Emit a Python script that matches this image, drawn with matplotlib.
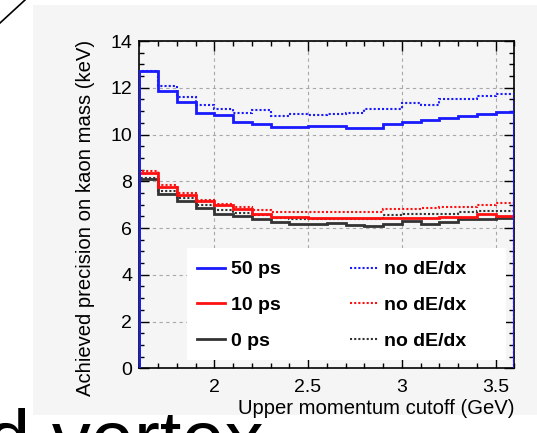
import numpy as np
import matplotlib
matplotlib.use("Agg")
import matplotlib.pyplot as plt
from matplotlib.patches import Rectangle
from matplotlib.lines import Line2D
from matplotlib.ticker import MultipleLocator

plt.rcParams['font.family'] = ['Liberation Sans', 'DejaVu Sans']

# Upper momentum cutoff bin edges (GeV)
cutoff_edges = [1.6, 1.7, 1.8, 1.9, 2.0, 2.1, 2.2, 2.3, 2.4, 2.5, 2.6,
                2.7, 2.8, 2.9, 3.0, 3.1, 3.2, 3.3, 3.4, 3.5, 3.6]

# Achieved precision on kaon mass (keV), per cutoff bin
prec_50ps = [12.72, 11.87, 11.40, 10.90, 10.82, 10.53, 10.43, 10.32, 10.32, 10.38,
             10.38, 10.30, 10.30, 10.46, 10.55, 10.63, 10.72, 10.80, 10.87, 10.98]
prec_50ps_nodedx = [12.72, 12.08, 11.61, 11.28, 11.09, 10.94, 11.03, 10.80, 10.87, 10.82,
                    10.87, 10.93, 11.11, 11.11, 11.36, 11.27, 11.52, 11.52, 11.63, 11.74]
prec_10ps = [8.36, 7.75, 7.41, 7.15, 6.98, 6.82, 6.62, 6.47, 6.46, 6.44,
             6.44, 6.44, 6.44, 6.44, 6.45, 6.45, 6.46, 6.48, 6.62, 6.52]
prec_10ps_nodedx = [8.42, 7.82, 7.48, 7.22, 7.04, 6.90, 6.76, 6.68, 6.68, 6.68,
                    6.67, 6.67, 6.67, 6.80, 6.80, 6.86, 6.90, 6.92, 7.00, 7.05]
prec_0ps = [8.08, 7.47, 7.15, 6.87, 6.62, 6.51, 6.39, 6.27, 6.17, 6.18,
            6.20, 6.15, 6.08, 6.19, 6.28, 6.19, 6.24, 6.38, 6.40, 6.42]
prec_0ps_nodedx = [8.12, 7.60, 7.29, 6.98, 6.79, 6.65, 6.55, 6.45, 6.38, 6.38,
                   6.40, 6.40, 6.40, 6.56, 6.58, 6.58, 6.62, 6.68, 6.72, 6.72]

solid_labels = ["50 ps", "10 ps", "0 ps"]
dotted_label = "no dE/dx"
x_ticks = [2, 2.5, 3, 3.5]
y_ticks = [0, 2, 4, 6, 8, 10, 12, 14]

BLUE = "#1a1aff"
RED = "#ff1010"
BLACK = "#333333"

W, H = 537, 433
fig = plt.figure(figsize=(W / 100, H / 100), dpi=100, facecolor="white")

# light slide panel behind the plot
fig.add_artist(Rectangle((33 / W, 1 - 415 / H), 1 - 33 / W, (415 - 5) / H,
                         transform=fig.transFigure, facecolor="#f5f5f5",
                         edgecolor="none", zorder=-10))
# slide decorations
fig.add_artist(Line2D([0, 25 / W], [1 - 23 / H, 1.0], transform=fig.transFigure,
                      color="black", lw=1.2))
fig.text(264 / W, 1 - 465 / H, "d vertex", ha="right", va="baseline",
         fontsize=56, color="black")

ax = fig.add_axes([139.3 / W, (H - 368.3) / H, 375 / W, 327.3 / H])
ax.set_facecolor("none")

dot = (0, (1, 1))
ax.stairs(prec_0ps_nodedx, cutoff_edges, color=BLACK, lw=1.5, ls=dot, zorder=3)
ax.stairs(prec_10ps_nodedx, cutoff_edges, color=RED, lw=1.5, ls=dot, zorder=3)
ax.stairs(prec_0ps, cutoff_edges, color=BLACK, lw=2.0, zorder=4)
ax.stairs(prec_10ps, cutoff_edges, color=RED, lw=2.0, zorder=4)
ax.stairs(prec_50ps_nodedx, cutoff_edges, color=BLUE, lw=1.5, ls=dot, zorder=5)
ax.stairs(prec_50ps, cutoff_edges, color=BLUE, lw=2.0, zorder=6)
ax.vlines(cutoff_edges[0], 0, prec_50ps[0], color=BLUE, lw=2.0, zorder=6)

ax.set_xlim(cutoff_edges[0], cutoff_edges[-1])
ax.set_ylim(0, 14)
ax.set_xticks(x_ticks)
ax.set_xticklabels([f"{t:g}" for t in x_ticks])
ax.set_yticks(y_ticks)
ax.set_yticklabels([f"{t:g}" for t in y_ticks])
ax.xaxis.set_minor_locator(MultipleLocator(0.1))
ax.yaxis.set_minor_locator(MultipleLocator(0.5))
ax.tick_params(which="both", direction="in", top=True, right=True, width=1.0,
               color="black", labelsize=14)
ax.tick_params(which="major", length=7)
ax.tick_params(which="minor", length=3.5)
ax.tick_params(axis="x", pad=8)
ax.tick_params(axis="y", pad=5)
for s in ax.spines.values():
    s.set_linewidth(1.2)
ax.grid(True, which="major", color="#a8a8a8", ls=(0, (3, 3)), lw=0.8, zorder=0)

ax.set_xlabel("Upper momentum cutoff (GeV)", fontsize=14.6, loc="right", labelpad=2)
fig.text(86 / W, 1 - 40 / H, "Achieved precision on kaon mass (keV)",
         rotation=90, ha="center", va="top", fontsize=14.6)

# blank panel behind the legend (hides the grid there, keeps the ticks)
ax.add_patch(Rectangle((0.127, 0.025), 0.978 - 0.127, 0.367 - 0.025,
                       transform=ax.transAxes, facecolor="white",
                       edgecolor="none", zorder=2.6))

handles = [
    Line2D([], [], color=BLUE, lw=2.0),
    Line2D([], [], color=RED, lw=2.0),
    Line2D([], [], color=BLACK, lw=2.0),
    Line2D([], [], color=BLUE, lw=1.5, ls=dot),
    Line2D([], [], color=RED, lw=1.5, ls=dot),
    Line2D([], [], color=BLACK, lw=1.5, ls=dot),
]
labels = solid_labels + [dotted_label] * 3
leg = ax.legend(handles, labels, ncol=2, loc="upper left",
                bbox_to_anchor=(0.127, 0.358), borderaxespad=0,
                prop={"family": "Liberation Sans", "weight": "bold", "size": 14},
                handlelength=1.45, handletextpad=0.3, columnspacing=3.6,
                labelspacing=0.93, borderpad=0.5, frameon=False)
leg.set_zorder(7)

fig.savefig("out.png", dpi=100, facecolor=fig.get_facecolor())
